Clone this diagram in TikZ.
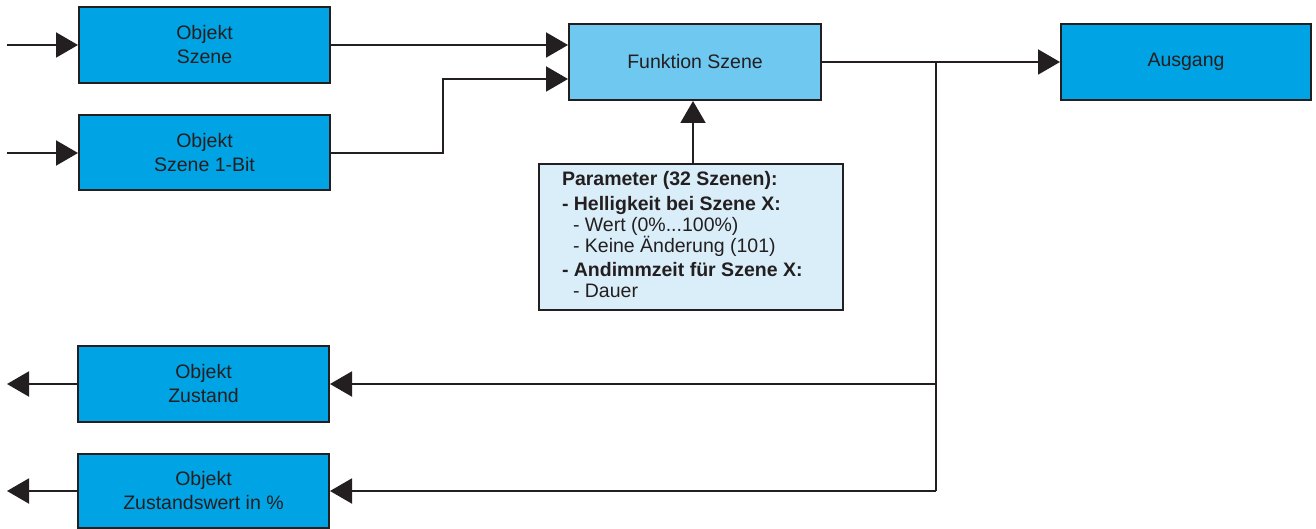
\documentclass[tikz,border=0pt]{standalone}
\usepackage{fontspec}
\setmainfont{Liberation Sans}
\usetikzlibrary{arrows.meta}
\definecolor{ink}{HTML}{231F20}
\definecolor{boxblue}{HTML}{00A3E4}
\definecolor{funcblue}{HTML}{6EC8F0}
\definecolor{parblue}{HTML}{DAEEF9}
\begin{document}
\begin{tikzpicture}[x=1pt,y=-1pt,
  blk/.style={draw=ink, line width=2pt, fill=boxblue, minimum width=251pt, minimum height=76pt,
    inner sep=0pt, align=center, text=ink, font=\fontsize{19.5}{24}\selectfont},
  arr/.style={draw=ink, line width=2pt, -{Triangle[length=22pt,width=25pt]}},
  ln/.style={draw=ink, line width=2pt}]
\useasboundingbox (0,0) rectangle (1316,529);
\node[blk] (b1) at (204.5,45) {Objekt\\Szene};
\node[blk, minimum height=75pt] (b2) at (204.5,153) {Objekt\\Szene 1-Bit};
\node[blk, fill=funcblue, minimum width=252pt] (f) at (695,62) {Funktion Szene};
\node[blk, minimum width=250pt] (a) at (1186,62) {Ausgang};
\node[blk] (z1) at (203.5,384) {Objekt\\Zustand};
\node[blk, minimum height=74pt] (z2) at (203.5,491) {Objekt\\Zustandswert in \%};
\node[draw=ink, line width=2pt, fill=parblue, text=ink, inner xsep=23pt, inner ysep=7pt, anchor=north west]
  (p) at (538,163) {\parbox[t][132pt][t]{258pt}{\fontsize{19.5}{21}\selectfont\raggedright
  \textbf{Parameter (32 Szenen):}\\[4pt]
  \textbf{- Helligkeit bei Szene X:}\\
  \hspace*{11pt}- Wert (0\%...100\%)\\
  \hspace*{11pt}- Keine Änderung (101)\\[3pt]
  \textbf{- Andimmzeit für Szene X:}\\
  \hspace*{11pt}- Dauer}};
\coordinate (in1) at (7,45);
\coordinate (in2) at (7,153);
\coordinate (o1) at (7,384);
\coordinate (o2) at (7,491);
\coordinate (j2) at (443,79);
\coordinate (br) at (936,62);
\coordinate (br2) at (936,491);
\draw[arr] (in1) -- (b1.west);
\draw[arr] (in2) -- (b2.west);
\draw[arr] (b1.east) -- (b1.east -| f.west);
\draw[arr] (b2.east) -- (j2 |- b2.east) -- (j2) -- (j2 -| f.west);
\draw[arr] ([xshift=2pt]p.north) -- ([xshift=2pt]p.north |- f.south);
\draw[arr] (f.east) -- (a.west);
\draw[ln] (br) -- (br2);
\draw[arr] (br |- z1.east) -- (z1.east);
\draw[arr] (br2) -- (z2.east);
\draw[arr] (z1.west) -- (o1);
\draw[arr] (z2.west) -- (o2);
\end{tikzpicture}
\end{document}
